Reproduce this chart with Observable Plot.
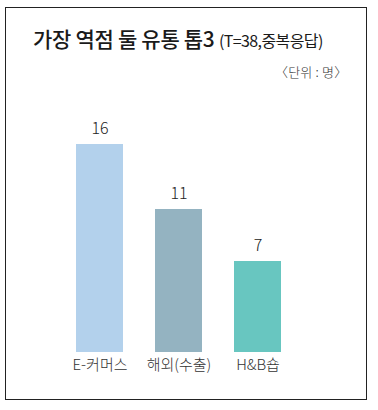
<!DOCTYPE html>
<html><head><meta charset="utf-8">
<script src="https://cdn.jsdelivr.net/npm/d3@7"></script>
<script src="https://cdn.jsdelivr.net/npm/@observablehq/plot@0.6"></script>
<style>
body{margin:0;background:#fff;font-family:"Noto Sans CJK KR","Noto Sans",sans-serif;}
#wrap{position:relative;width:378px;height:410px;overflow:hidden;}
#frame{position:absolute;left:5px;top:7px;width:360px;height:391px;border:1.5px solid #222;}
#title{position:absolute;left:33px;top:23px;font-size:21px;font-weight:500;color:#1a1a1a;white-space:pre;letter-spacing:-0.3px;}
#title small{font-size:16px;font-weight:400;letter-spacing:-0.6px;}
#sub{position:absolute;left:275px;top:62px;font-size:13px;color:#333;white-space:pre;letter-spacing:0.2px;font-weight:300;}
#chart{position:absolute;left:0;top:90px;}
</style></head>
<body><div id="wrap"><div id="frame"></div>
<div id="title">가장 역점 둘 유통 톱3 <small>(T=38,중복응답)</small></div>
<div id="sub">〈단위 : 명〉</div>
<div id="chart"></div></div>
<script>
const categories = ["E-커머스", "해외(수출)", "H&B숍"];
const values = [16, 11, 7];
const colors = ["#b3d1ec", "#94b3c1", "#68c6c0"];
const data = categories.map((c, i) => ({cat: c, value: values[i], color: colors[i]}));
const chart = Plot.plot({
  width: 378, height: 290,
  marginTop: 54, marginBottom: 28, marginLeft: 44, marginRight: 65,
  style: {fontFamily: '"Noto Sans CJK KR","Noto Sans",sans-serif', background: "transparent"},
  x: {domain: categories, padding: 0.405, label: null},
  y: {domain: [0, 16], axis: null},
  marks: [
    Plot.barY(data, {x: "cat", y: "value", fill: "color"}),
    Plot.text(data, {x: "cat", y: "value", text: d => String(d.value), dy: -16, fontSize: 16, fontWeight: 300, fill: "#222"}),
    Plot.axisX({tickSize: 0, tickPadding: 7, fontSize: 15, fontWeight: 300, fill: "#333", letterSpacing: 0.3})
  ]
});
document.getElementById("chart").appendChild(chart);
</script></body></html>
